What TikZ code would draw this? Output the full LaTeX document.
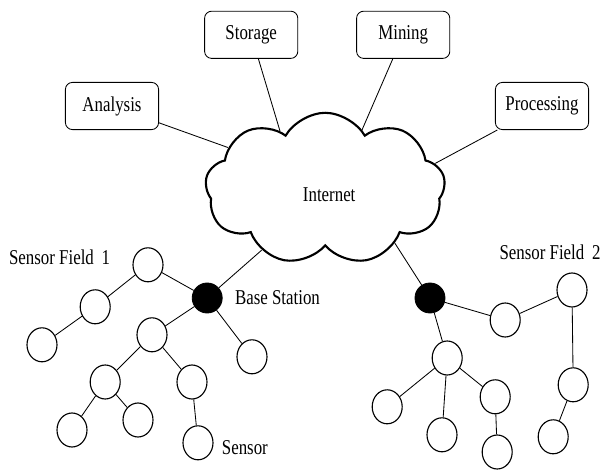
\documentclass[tikz,border=0pt]{standalone}
\usepackage{fontspec}
\setmainfont{Liberation Serif}[FakeStretch=0.8]
\usepackage{tikz}
\usetikzlibrary{shapes.symbols,shapes.geometric}

\begin{document}
\begin{tikzpicture}[font=\fontsize{15}{18}\selectfont, line width=0.6pt,
  task/.style={draw, rounded corners=5pt, minimum width=2.33cm, minimum height=1.18cm},
  sensor/.style={draw, ellipse, line width=0.8pt, minimum width=0.75cm, minimum height=0.85cm, inner sep=0pt},
  base/.style={draw, fill=black, circle, minimum size=0.75cm, inner sep=0pt}]
%\draw[help lines] (0,0) grid (15,12);
\useasboundingbox (0,0) rectangle (15,11.8);
\node (cloud) [draw, cloud, cloud puffs=9, cloud puff arc=120, aspect=1.58, line width=1.5pt,
  minimum width=6cm, minimum height=3.8cm] at (8.13,7.08) {};
\node (inet) [] at (8.23,6.93) {Internet};
\node (analysis) [task] at (2.8,9.15) {Analysis};
\node (storage) [task] at (6.28,10.93) {Storage};
\node (mining) [task] at (10.08,10.93) {Mining};
\node (processing) [task] at (13.55,9.15) {Processing};
\path
(analysis) edge (cloud.157)
(storage) edge (cloud.128)
(mining) edge (cloud.58)
(processing) edge (cloud.13);
% sensor field 1
\node (bs1) [base] at (5.18,4.35) {};
\node (n1) [sensor] at (3.70,5.18) {};
\node (n2) [sensor] at (2.38,4.13) {};
\node (n3) [sensor] at (1.05,3.18) {};
\node (n4) [sensor] at (3.80,3.43) {};
\node (n5) [sensor] at (6.30,2.88) {};
\node (n6) [sensor] at (2.63,2.25) {};
\node (n7) [sensor] at (4.80,2.25) {};
\node (n8) [sensor] at (1.80,1.05) {};
\node (n9) [sensor] at (3.45,1.30) {};
\node (n10) [sensor] at (4.95,0.73) {};
\node (f1) [anchor=west] at (0.1,5.38) {Sensor Field\, 1};
\node (bs1lbl) [anchor=west] at (5.75,4.35) {Base Station};
\node (slbl) [anchor=west] at (5.42,0.6) {Sensor};
\path
(bs1) edge (cloud.224)
(bs1) edge (n1)
(n1) edge (n2)
(n2) edge (n3)
(bs1) edge (n4)
(bs1) edge (n5)
(n4) edge (n6)
(n4) edge (n7)
(n6) edge (n8)
(n6) edge (n9)
(n7) edge (n10);
% sensor field 2
\node (bs2) [base] at (10.75,4.35) {};
\node (m1) [sensor] at (12.63,3.80) {};
\node (m2) [sensor] at (14.30,4.55) {};
\node (m3) [sensor] at (11.18,2.85) {};
\node (m4) [sensor] at (14.33,2.18) {};
\node (m5) [sensor] at (9.68,1.63) {};
\node (m6) [sensor] at (11.05,0.93) {};
\node (m7) [sensor] at (12.38,1.88) {};
\node (m8) [sensor] at (12.43,0.50) {};
\node (m9) [sensor] at (13.83,0.88) {};
\node (f2) [] at (13.75,5.5) {Sensor Field\, 2};
\path
(bs2) edge (cloud.322)
(bs2) edge (m1)
(m1) edge (m2)
(m2) edge (m4)
(m4) edge (m9)
(bs2) edge (m3)
(m3) edge (m5)
(m3) edge (m6)
(m3) edge (m7)
(m7) edge (m8);
\end{tikzpicture}
\end{document}
